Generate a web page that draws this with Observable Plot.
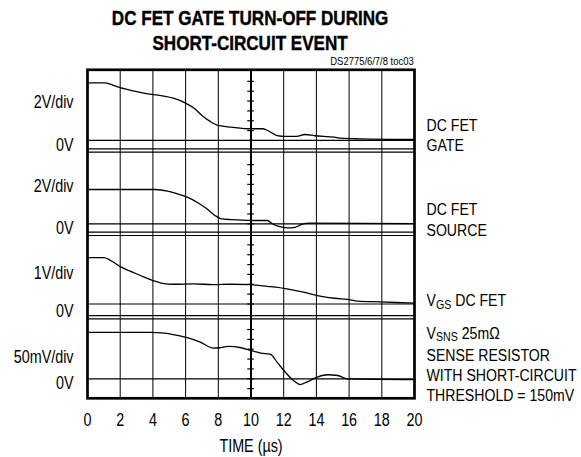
<!DOCTYPE html>
<html><head><meta charset="utf-8">
<script src="https://cdn.jsdelivr.net/npm/d3@7"></script>
<script src="https://cdn.jsdelivr.net/npm/@observablehq/plot@0.6"></script>
<style>
body{margin:0;background:#fff;}
#wrap{width:581px;height:457px;position:relative;overflow:hidden;font-family:"Liberation Sans",Arial,sans-serif;color:#000;}
#head{position:relative;height:58px;}
#title{position:absolute;left:87px;width:327px;top:6px;text-align:center;font-weight:bold;font-size:19.5px;line-height:25px;white-space:nowrap;transform:scaleX(0.875);transform-origin:49% 0;-webkit-text-stroke:0.4px #000;}
#code{position:absolute;right:167px;top:56px;font-size:11.5px;line-height:11px;white-space:nowrap;transform:scaleX(0.82);transform-origin:100% 0;}
</style></head>
<body><div id="wrap"><div id="head"><div id="title">DC FET GATE TURN-OFF DURING<br>SHORT-CIRCUIT EVENT</div><div id="code">DS2775/6/7/8 toc03</div></div><div id="chart"></div></div>
<script>
// ---------- data ----------
const xTicks = [0, 2, 4, 6, 8, 10, 12, 14, 16, 18, 20];           // time, µs

const gateTime = [0, 1.1, 1.6, 2.0, 2.8, 3.6, 4.5, 5.3, 6.0, 6.5, 7.0, 7.5, 8.0, 8.8, 10.0, 10.7, 11.0, 11.3, 11.6, 12.1, 12.8, 13.3, 13.9, 15.1, 15.5, 16.7, 20];
const gateV    = [2.81, 2.81, 2.68, 2.57, 2.41, 2.28, 2.18, 2.05, 1.82, 1.58, 1.22, 0.93, 0.73, 0.65, 0.57, 0.57, 0.49, 0.36, 0.24, 0.20, 0.20, 0.29, 0.23, 0.16, 0.11, 0.08, 0.05];

const sourceTime = [0, 4.15, 4.9, 5.5, 6.1, 6.7, 7.3, 7.8, 8.2, 8.8, 10.0, 11.0, 11.3, 11.7, 12.2, 12.7, 13.1, 13.6, 20];
const sourceV    = [1.67, 1.67, 1.59, 1.46, 1.30, 1.05, 0.73, 0.40, 0.24, 0.20, 0.16, 0.16, 0.0, -0.13, -0.20, -0.17, -0.03, 0.03, 0.01];

const vgsTime = [0, 1.0, 1.5, 2.0, 2.6, 3.2, 4.0, 4.5, 5.3, 6.5, 7.7, 8.8, 10.0, 11.0, 12.2, 13.2, 14.0, 15.1, 16.1, 16.5, 17.9, 20];
const vgsV    = [1.13, 1.13, 1.04, 0.91, 0.80, 0.70, 0.57, 0.51, 0.48, 0.49, 0.47, 0.48, 0.47, 0.43, 0.37, 0.29, 0.21, 0.14, 0.10, 0.07, 0.05, 0.02];

const snsTime = [0, 3.85, 4.7, 5.5, 6.1, 6.9, 7.7, 8.1, 8.6, 9.4, 10.0, 10.6, 11.2, 11.6, 12.1, 12.6, 13.0, 13.4, 14.05, 14.7, 15.3, 15.9, 20];
const snsMV   = [56.5, 56.5, 55.6, 52.8, 50.0, 44.6, 37.3, 37.8, 39.4, 37.8, 34.5, 31.2, 29.6, 20.2, 8.0, -2.1, -7.0, -4.1, 2.0, 4.9, 4.0, 0, -0.9];

const channelNames = ["gate", "source", "vgs", "sns"];
const scaleLabels  = ["2V/div", "2V/div", "1V/div", "50mV/div"];
const unitsPerDiv  = [2, 2, 1, 50];
// each right-hand line is a list of [text, isSubscript] pieces
const rightLabels  = [
  [[["DC FET", 0]], [["GATE", 0]]],
  [[["DC FET", 0]], [["SOURCE", 0]]],
  [[["V", 0], ["GS", 1], [" DC FET", 0]]],
  [[["V", 0], ["SNS", 1], [" 25mΩ", 0]], [["SENSE RESISTOR", 0]], [["WITH SHORT-CIRCUIT", 0]], [["THRESHOLD = 150mV", 0]]]
];

// ---------- layout (screen divisions, 8 vertical) ----------
const zeroDiv = [6.279, 4.25, 2.297, 0.475];          // 0V graticule line of each channel
const splitLines = [6.075, 5.995, 4.045, 3.965, 2.015, 1.935];
const minorStep = 0.24;
const scaleLabelY = [7.216, 5.158, 3.04, 0.994];
const zeroLabelY  = [6.157, 4.135, 2.113, 0.36];
const rightLabelY = [[6.645, 6.145], [4.59, 4.095], [2.381], [1.583, 1.047, 0.56, 0.068]];

const FONT = '"Liberation Sans",Arial,sans-serif';
const NARROW = 0.82;
const SIZE = 17.5, RSIZE = 17.2, SUBSIZE = 13, SUBDROP = 4;

const series = [[gateTime, gateV], [sourceTime, sourceV], [vgsTime, vgsV], [snsTime, snsMV]];
const trace = series.flatMap(([t, v], c) => t.map((ti, i) => ({ch: channelNames[c], t: ti, y: zeroDiv[c] + v[i] / unitsPerDiv[c]})));

const minorTicks = zeroDiv.flatMap((z, c) => d3.range(c === 3 ? -1 : 0, c === 3 ? 6 : 7).map(k => z + k * minorStep));
const leftText = [
  ...scaleLabels.map((s, c) => ({s, y: scaleLabelY[c]})),
  ...zeroDiv.map((z, c) => ({s: "0V", y: zeroLabelY[c]}))
];

// lay right-hand pieces side by side (measured with the same font, then narrowed)
const ctx = document.createElement("canvas").getContext("2d");
const measure = (s, size) => { ctx.font = `${size}px "Liberation Sans", Arial, sans-serif`; return ctx.measureText(s).width * NARROW; };
const rightText = rightLabels.flatMap((lines, c) => lines.flatMap((pieces, i) => {
  let x = 12;
  return pieces.map(([s, sub]) => {
    const size = sub ? SUBSIZE : RSIZE;
    const lead = s.startsWith(" ") ? measure(" ", size) : 0;
    const txt = s.trim();
    const item = {s: txt, y: rightLabelY[c][i], dx: x + lead, dy: sub ? SUBDROP : 0, size};
    x += lead + measure(txt, size);
    return item;
  });
}));

const chart = Plot.plot({
  width: 581,
  height: 399,
  marginLeft: 87,
  marginRight: 167,
  marginTop: 11.3,
  marginBottom: 59.2,
  style: {fontFamily: FONT, fontSize: SIZE + "px", color: "#000", background: "#fff", overflow: "visible"},
  x: {domain: [0, 20]},
  y: {domain: [0, 8], axis: null},
  marks: [
    Plot.ruleX(xTicks.filter(d => d > 0 && d < 20 && d !== 10), {stroke: "#000", strokeWidth: 1}),
    Plot.ruleX([10], {stroke: "#000", strokeWidth: 2}),
    Plot.ruleY(zeroDiv, {stroke: "#000", strokeWidth: 1.2}),
    Plot.ruleY(splitLines, {stroke: "#000", strokeWidth: 1.2}),
    Plot.ruleY(minorTicks, {x1: 9.8, x2: 10.2, stroke: "#000", strokeWidth: 1.2}),
    Plot.line(trace, {x: "t", y: "y", z: "ch", curve: "monotone-x", stroke: "#000", strokeWidth: 1.3}),
    Plot.frame({stroke: "#000", strokeWidth: 2.7}),
    Plot.axisX({ticks: xTicks, tickSize: 0, tickPadding: 15.5, tickFormat: d => String(d), fontSize: SIZE, label: null}),
    Plot.text(["TIME (µs)"], {frameAnchor: "bottom", dy: 47.7, lineAnchor: "middle", fontSize: SIZE}),
    Plot.text(leftText, {y: "y", text: "s", frameAnchor: "left", dx: -14, textAnchor: "end", lineAnchor: "middle", fontSize: SIZE}),
    ...rightText.map(d => Plot.text([d], {y: "y", text: "s", frameAnchor: "right", dx: d.dx, dy: d.dy, textAnchor: "start", lineAnchor: "middle", fontSize: d.size}))
  ]
});

document.getElementById("chart").appendChild(chart);

// condensed lettering, like the datasheet's narrow sans: squeeze each text about its anchor
d3.select(chart).selectAll("text").each(function () {
  const b = this.getBBox();
  if (!b.width) return;
  const anchor = getComputedStyle(this).textAnchor;
  const ax = anchor === "end" ? b.x + b.width : anchor === "middle" ? b.x + b.width / 2 : b.x;
  const t = this.getAttribute("transform") || "";
  this.setAttribute("transform", `${t} translate(${ax},0) scale(${NARROW},1) translate(${-ax},0)`.trim());
});
</script>
</body></html>
